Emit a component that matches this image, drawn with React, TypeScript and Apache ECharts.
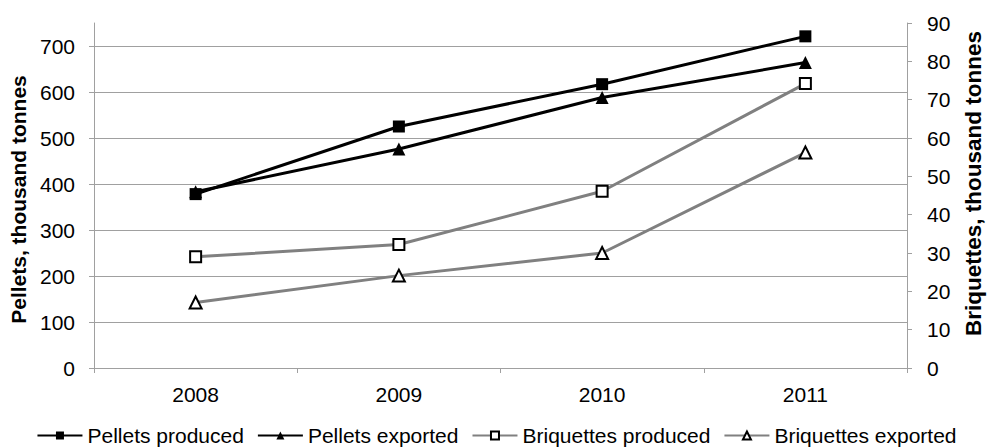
import React, { useEffect, useRef } from "react";
import * as echarts from "echarts";

const years = ["2008", "2009", "2010", "2011"];
const pelletsProduced = [378, 525, 617, 721];
const pelletsExported = [383, 476, 588, 664];
const briquettesProduced = [29, 32.2, 46.1, 74.2];
const briquettesExported = [17.1, 24.1, 30, 56.2];
const leftTicks = [0, 100, 200, 300, 400, 500, 600, 700];

const FONT = "'Liberation Sans', Arial, sans-serif";
const AXIS_GRAY = "#a0a0a0";
const LINE_GRAY = "#808080";

export default function App() {
  const ref = useRef<HTMLDivElement>(null);
  useEffect(() => {
    if (!ref.current) return;
    const chart = echarts.init(ref.current, undefined, { renderer: "svg" });
    const axisCommon = {
      axisLine: { show: true, lineStyle: { color: AXIS_GRAY, width: 1 } },
      axisTick: { show: true, length: 5, lineStyle: { color: AXIS_GRAY } },
    };
    chart.setOption({
      animation: false,
      textStyle: { fontFamily: FONT },
      grid: { left: 90, right: 74, top: 23, bottom: 80, containLabel: false },
      legend: {
        bottom: -3,
        left: "center",
        itemWidth: 45,
        itemHeight: 10,
        itemGap: 13,
        textStyle: { fontSize: 21, color: "#000", fontFamily: FONT },
        data: ["Pellets produced", "Pellets exported", "Briquettes produced", "Briquettes exported"],
      },
      xAxis: {
        type: "category",
        data: years,
        boundaryGap: true,
        axisLine: { show: true, lineStyle: { color: AXIS_GRAY, width: 1 } },
        axisTick: { show: true, length: 5, alignWithLabel: false, lineStyle: { color: AXIS_GRAY } },
        axisLabel: { fontSize: 21, color: "#000", margin: 16, fontFamily: FONT },
        splitLine: { show: false },
      },
      yAxis: [
        {
          type: "value",
          min: 0,
          max: 750,
          interval: 100,
          position: "left",
          ...axisCommon,
          axisTick: { show: true, length: 5, lineStyle: { color: AXIS_GRAY }, customValues: leftTicks },
          axisLabel: { fontSize: 21, color: "#000", margin: 19, fontFamily: FONT, customValues: leftTicks },
          splitLine: { show: true, lineStyle: { color: AXIS_GRAY, width: 1 } },
          name: "Pellets, thousand tonnes",
          nameLocation: "middle",
          nameGap: 65,
          nameTextStyle: { fontSize: 21, fontWeight: "bold", color: "#000", fontFamily: FONT, padding: [0, 8, 0, 0] },
        },
        {
          type: "value",
          min: 0,
          max: 90,
          interval: 10,
          position: "right",
          ...axisCommon,
          axisLabel: { fontSize: 21, color: "#000", margin: 20, fontFamily: FONT },
          splitLine: { show: false },
          name: "Briquettes, thousand tonnes",
          nameLocation: "middle",
          nameGap: 55,
          nameTextStyle: { fontSize: 22.5, fontWeight: "bold", color: "#000", fontFamily: FONT, padding: [0, 0, 0, 24] },
        },
      ],
      series: [
        {
          name: "Pellets produced",
          type: "line",
          yAxisIndex: 0,
          data: pelletsProduced,
          z: 4,
          symbol: "rect",
          symbolSize: 12,
          lineStyle: { color: "#000", width: 3 },
          itemStyle: { color: "#000" },
        },
        {
          name: "Pellets exported",
          type: "line",
          yAxisIndex: 0,
          data: pelletsExported,
          z: 3,
          symbol: "triangle",
          symbolSize: 13,
          lineStyle: { color: "#000", width: 3 },
          itemStyle: { color: "#000" },
        },
        {
          name: "Briquettes produced",
          type: "line",
          yAxisIndex: 1,
          data: briquettesProduced,
          z: 2,
          symbol: "rect",
          symbolSize: 11,
          lineStyle: { color: LINE_GRAY, width: 3 },
          itemStyle: { color: "#fff", borderColor: "#000", borderWidth: 2 },
        },
        {
          name: "Briquettes exported",
          type: "line",
          yAxisIndex: 1,
          data: briquettesExported,
          z: 2,
          symbol: "triangle",
          symbolSize: 12,
          lineStyle: { color: LINE_GRAY, width: 3 },
          itemStyle: { color: "#fff", borderColor: "#000", borderWidth: 2 },
        },
      ],
    });
    return () => chart.dispose();
  }, []);
  return (
    <div
      ref={ref}
      style={{ position: "fixed", left: 0, top: 0, width: 993, height: 448, background: "#fff" }}
    />
  );
}
